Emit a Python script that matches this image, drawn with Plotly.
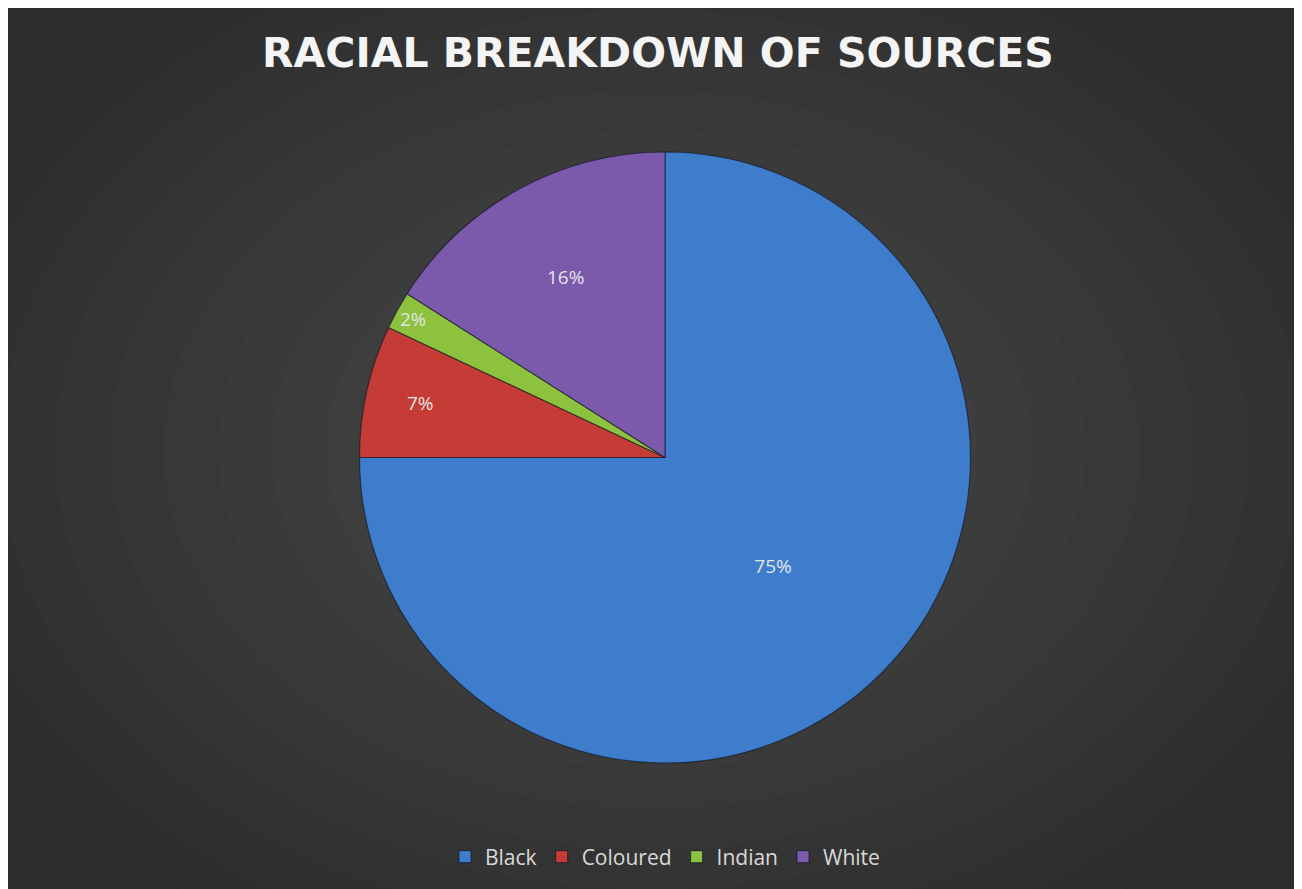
import plotly.graph_objects as go

categories = ["Black", "Coloured", "Indian", "White"]
values = [75, 7, 2, 16]
colors = ["#3d7dcc", "#c43c35", "#8dc23f", "#7c5aab"]
title_text = "RACIAL BREAKDOWN OF SOURCES"

W, H = 1288, 883
ml, mr, mt, mb = 300, 274, 144, 128
pw, ph = W - ml - mr, H - mt - mb

fig = go.Figure(go.Pie(
    labels=categories, values=values, sort=False, direction="clockwise",
    rotation=0, textinfo="percent", textposition="inside",
    insidetextorientation="horizontal",
    marker=dict(colors=colors, line=dict(color="rgba(20,20,40,0.6)", width=1.2)),
    textfont=dict(family="Open Sans", size=19, color="#e4e4e4"),
    hoverinfo="label+percent",
))

# radial gradient background imitation
shapes = []
cx = (W / 2 - ml) / pw
cy = (mt + ph - H / 2) / ph
n = 14
for i in range(n):
    f = 1 - i / n
    rx = 760 * f / pw
    ry = 560 * f / ph
    shapes.append(dict(type="circle", xref="paper", yref="paper",
                       x0=cx - rx, x1=cx + rx, y0=cy - ry, y1=cy + ry,
                       fillcolor="rgba(255,255,255,0.011)", line=dict(width=0),
                       layer="below"))

tx = (W / 2 - ml) / pw + 6 / pw
ty = (mt + ph - 45) / ph
annotations = [
    dict(text="<b>" + title_text + "</b>", xref="paper", yref="paper",
         x=tx, y=ty, yanchor="middle",
         showarrow=False, font=dict(family="DejaVu Sans", size=41, color="#f4f4f4")),
]

fig.update_layout(
    width=W, height=H,
    margin=dict(l=ml, r=mr, t=mt, b=mb),
    paper_bgcolor="#2c2c2c", plot_bgcolor="#2c2c2c",
    shapes=shapes, annotations=annotations,
    showlegend=True,
    legend=dict(orientation="h", x=0.5, xanchor="center", y=(mt + ph - 849) / ph,
                yanchor="middle", font=dict(family="Open Sans", size=21, color="#d9d9d9"),
                bgcolor="rgba(0,0,0,0)", itemwidth=30),
)

fig.write_html("out.html")
